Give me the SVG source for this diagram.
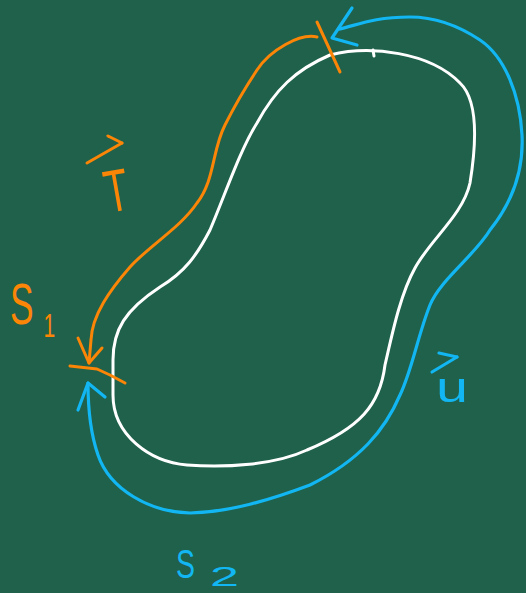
<svg xmlns="http://www.w3.org/2000/svg" width="526" height="593" viewBox="0 0 526 593">
<style>
.s{fill:none;stroke-linecap:round;stroke-linejoin:round}
.w{stroke:#ffffff;stroke-width:3}
.o{stroke:#fb8507;stroke-width:3}
.b{stroke:#12b6f2;stroke-width:3.2}
.t{font-family:"Liberation Sans",Arial,sans-serif;font-weight:normal}
.to{fill:#fb8507}
.tb{fill:#12b6f2}
</style>
<rect width="526" height="593" fill="#1f614a"/>
<g id="surface">
<path class="s w" d="M330,55 C370,45 430,52 460,83 C478,100 477,140 470,183 C463,215 430,240 415,268 C400,295 392,335 385,365 C380,405 360,428 307,450 C275,465 225,468 187,465 C150,462 113,435 113,395 L113,360 C113,330 125,310 160,287 C185,272 197,255 210,230 C225,195 240,150 257,123 C275,90 295,70 330,55 Z"/>
<path class="s w" d="M373,50 L374,56" stroke-width="2"/>
</g>
<g id="connectors">
<g id="curve-T">
<path class="s o" d="M317,37 C300,33 270,50 257,70 C245,88 235,105 225,125 C212,150 215,180 197,203 C180,228 150,245 130,267 C110,290 92,315 91,340 L89,363"/>
<polyline class="s o" points="78,338 89,363 102,348"/>
</g>
<g id="curve-u">
<path class="s b" d="M340,29 C360,24 375,17 410,17 C440,17 462,28 480,40 C505,57 520,95 522,135 C524,175 510,205 490,230 C475,255 440,280 430,305 C418,335 412,370 400,395 C385,430 360,460 310,485 C270,500 230,512 190,513 C150,512 110,490 98,455 C90,432 88,410 88,383"/>
<polyline class="s b" points="352,8 332,38 357,45"/>
<polyline class="s b" points="105,397 88,383 78,410"/>
</g>
</g>
<g id="cut-S1">
<polyline class="s o" points="70,366 97,369 110,375 125,383"/>
</g>
<g id="cut-S2">
<polyline class="s o" points="317,22 340,72"/>
</g>
<g id="label-S1">
<text class="t to" transform="translate(10,324) scale(0.62,1)"><tspan x="0" y="0" font-size="57">S</tspan><tspan x="54" y="13" font-size="34">1</tspan></text>
</g>
<g id="label-T">
<polyline class="s o" points="87,163 122,143"/>
<polyline class="s o" points="108,136 122,143"/>
<text class="t to" transform="translate(120,211) rotate(-10)" x="-12" y="0" font-size="60" textLength="24" lengthAdjust="spacingAndGlyphs">T</text>
</g>
<g id="label-u">
<polyline class="s b" points="432,372 457,357"/>
<polyline class="s b" points="439,353 457,357"/>
<text class="t tb" x="436" y="402" font-size="42" textLength="32" lengthAdjust="spacingAndGlyphs">u</text>
</g>
<g id="label-S2">
<text class="t tb"><tspan x="176" y="578" font-size="41" textLength="19" lengthAdjust="spacingAndGlyphs">S</tspan><tspan x="210" y="586" font-size="28" textLength="29" lengthAdjust="spacingAndGlyphs">2</tspan></text>
</g>
</svg>
